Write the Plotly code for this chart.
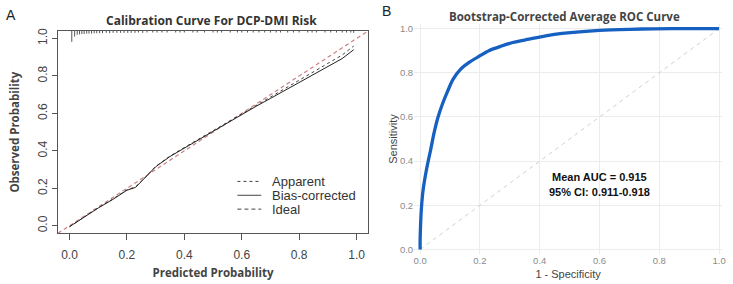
import plotly.graph_objects as go

# ---------------- Data ----------------
# Panel A: calibration curve
cal_pred = [0.0, 0.05, 0.10, 0.15, 0.20, 0.23, 0.26, 0.30, 0.35, 0.40, 0.45, 0.50,
            0.55, 0.60, 0.65, 0.70, 0.75, 0.80, 0.85, 0.90, 0.95, 0.99]
cal_bias = [-0.005, 0.045, 0.095, 0.14, 0.19, 0.205, 0.25, 0.315, 0.37, 0.415, 0.46, 0.505,
            0.55, 0.595, 0.638, 0.68, 0.722, 0.765, 0.807, 0.85, 0.893, 0.94]
cal_app = [-0.005, 0.046, 0.096, 0.142, 0.192, 0.208, 0.252, 0.317, 0.372, 0.418, 0.463, 0.508,
           0.553, 0.60, 0.645, 0.69, 0.735, 0.78, 0.822, 0.868, 0.912, 0.96]

# spike histogram of predicted values (top rug): positions and relative heights
rug_x = [0.008, 0.018, 0.027, 0.035, 0.043, 0.051, 0.060, 0.068, 0.077, 0.086, 0.095,
         0.105, 0.115, 0.128, 0.140, 0.152, 0.165, 0.178, 0.190, 0.203, 0.215, 0.228,
         0.240, 0.255, 0.270, 0.290, 0.305, 0.322, 0.340, 0.370, 0.385, 0.400, 0.430,
         0.445, 0.470, 0.500, 0.515, 0.530, 0.560, 0.585, 0.600, 0.620, 0.640, 0.660,
         0.680, 0.700, 0.720, 0.735, 0.760, 0.780, 0.800, 0.830, 0.845, 0.860, 0.890,
         0.910, 0.930, 0.950, 0.965, 0.980, 0.990]
rug_h = [0.058, 0.030, 0.020, 0.018, 0.016, 0.016, 0.014, 0.014, 0.014, 0.012, 0.012,
         0.012, 0.012, 0.010, 0.012, 0.010, 0.010, 0.010, 0.010, 0.010, 0.010, 0.010,
         0.008, 0.010, 0.008, 0.008, 0.008, 0.008, 0.008, 0.008, 0.008, 0.008, 0.008,
         0.008, 0.008, 0.008, 0.008, 0.008, 0.008, 0.008, 0.008, 0.008, 0.008, 0.008,
         0.008, 0.008, 0.008, 0.008, 0.008, 0.008, 0.008, 0.008, 0.008, 0.008, 0.008,
         0.008, 0.008, 0.008, 0.008, 0.008, 0.010]

cal_ticks = [0.0, 0.2, 0.4, 0.6, 0.8, 1.0]
cal_ticktext = ["0.0", "0.2", "0.4", "0.6", "0.8", "1.0"]
cal_range = [-0.04, 1.04]

# Panel B: ROC curve
roc_fpr = [0.0, 0.0, 0.001, 0.004, 0.010, 0.021, 0.035, 0.047, 0.060, 0.075, 0.090,
           0.110, 0.135, 0.165, 0.200, 0.230, 0.270, 0.310, 0.364, 0.420, 0.475, 0.600,
           0.700, 0.780, 0.900, 1.0]
roc_tpr = [0.0, 0.04, 0.09, 0.18, 0.27, 0.36, 0.45, 0.53, 0.60, 0.66, 0.71,
           0.77, 0.815, 0.848, 0.877, 0.90, 0.92, 0.937, 0.952, 0.967, 0.978, 0.992,
           0.997, 0.999, 1.0, 1.0]
roc_ticks = [0.0, 0.2, 0.4, 0.6, 0.8, 1.0]
roc_ticktext = ["0.0", "0.2", "0.4", "0.6", "0.8", "1.0"]
auc_text = ["Mean AUC = 0.915", "95% CI: 0.911-0.918"]

# ---------------- Figure ----------------
fig = go.Figure()

# rug spikes hanging from the top border
rx, ry = [], []
for x, h in zip(rug_x, rug_h):
    rx += [x, x, None]
    ry += [cal_range[1], cal_range[1] - h, None]
fig.add_trace(go.Scatter(x=rx, y=ry, mode="lines", line=dict(color="#555555", width=1),
                         xaxis="x", yaxis="y", showlegend=False, hoverinfo="skip"))

# ideal line
fig.add_trace(go.Scatter(x=cal_range, y=cal_range, mode="lines",
                         line=dict(color="#cc8080", width=1.2, dash="4px,3px"),
                         xaxis="x", yaxis="y", showlegend=False))
fig.add_trace(go.Scatter(x=cal_pred, y=cal_app, mode="lines",
                         line=dict(color="#444444", width=1, dash="dot"),
                         xaxis="x", yaxis="y", showlegend=False))
fig.add_trace(go.Scatter(x=cal_pred, y=cal_bias, mode="lines",
                         line=dict(color="#222222", width=1),
                         xaxis="x", yaxis="y", showlegend=False))

# ROC
fig.add_trace(go.Scatter(x=[0, 1], y=[0, 1], mode="lines",
                         line=dict(color="#d0d0d0", width=1, dash="4px,4px"),
                         xaxis="x2", yaxis="y2", showlegend=False))
fig.add_trace(go.Scatter(x=roc_fpr, y=roc_tpr, mode="lines",
                         line=dict(color="#1560c0", width=3.3, shape="spline", smoothing=0.8),
                         xaxis="x2", yaxis="y2", showlegend=False))

tickfont_a = dict(family="Liberation Sans, Arial", size=12, color="#444444")
labfont_a = dict(family="Open Sans, Liberation Sans", size=11.5, color="#444444")

fig.update_layout(
    width=733, height=284,
    margin=dict(l=0, r=0, t=0, b=0),
    paper_bgcolor="white", plot_bgcolor="white",
    xaxis=dict(domain=[0.0783, 0.5042], anchor="y", range=cal_range, tickvals=cal_ticks,
               ticktext=cal_ticktext, ticks="outside", ticklen=6, tickcolor="#555555",
               ticklabelstandoff=4,
               showline=True, mirror=True, linecolor="#555555", linewidth=1,
               showgrid=False, zeroline=False, tickfont=tickfont_a,
               title=dict(text="<b>Predicted Probability</b>", font=labfont_a, standoff=8)),
    yaxis=dict(domain=[0.1775, 0.90], anchor="x", range=cal_range, tickvals=cal_ticks,
               ticktext=cal_ticktext, ticks="outside", ticklen=5, tickcolor="#555555",
               tickangle=-90, showline=True, mirror=True, linecolor="#555555", linewidth=1,
               showgrid=False, zeroline=False, tickfont=tickfont_a,
               title=dict(text="<b>Observed Probability</b>", font=labfont_a, standoff=14)),
    xaxis2=dict(domain=[0.5675, 0.9905], anchor="y2", range=[-0.02, 1.01], tickvals=roc_ticks,
                ticktext=roc_ticktext, showgrid=True, gridcolor="#ececec", gridwidth=1,
                zeroline=False, showline=False, ticks="",
                tickfont=dict(family="Liberation Sans, Arial", size=9.5, color="#8a8a8a"),
                title=dict(text="1 - Specificity", standoff=4,
                           font=dict(family="Liberation Sans, Arial", size=11, color="#444444"))),
    yaxis2=dict(domain=[0.1039, 0.9243], anchor="x2", range=[-0.02, 1.02], tickvals=roc_ticks,
                ticktext=roc_ticktext, showgrid=True, gridcolor="#ececec", gridwidth=1,
                zeroline=False, showline=False, ticks="",
                tickfont=dict(family="Liberation Sans, Arial", size=9.5, color="#8a8a8a"),
                title=dict(text="Sensitivity", standoff=0,
                           font=dict(family="Liberation Sans, Arial", size=11, color="#444444"))),
)

# legend for panel A (manual, R-style)
legend_items = [("Apparent", "dot"), ("Bias-corrected", "solid"), ("Ideal", "4px,3px")]
leg_y = [0.237, 0.163, 0.089]
for (name, dash), yv in zip(legend_items, leg_y):
    fig.add_shape(type="line", xref="x", yref="y", x0=0.585, x1=0.668, y0=yv, y1=yv,
                  line=dict(color="#444444", width=1, dash=dash))
    fig.add_annotation(x=0.70, y=yv, xref="x", yref="y", text=name, showarrow=False,
                       xanchor="left", yanchor="middle",
                       font=dict(family="Liberation Sans, Arial", size=13, color="#333333"))

# titles and panel letters
fig.add_annotation(x=212 / 733, y=1 - 18 / 284, xref="paper", yref="paper",
                   text="<b>Calibration Curve For DCP-DMI Risk</b>", showarrow=False,
                   xanchor="center", yanchor="middle",
                   font=dict(family="Open Sans, Liberation Sans", size=12, color="#333333"))
fig.add_annotation(x=567 / 733, y=1 - 14 / 284, xref="paper", yref="paper",
                   text="<b>Bootstrap-Corrected Average ROC Curve</b>", showarrow=False,
                   xanchor="center", yanchor="middle",
                   font=dict(family="Open Sans, Liberation Sans", size=11.5, color="#444444"))
fig.add_annotation(x=3 / 733, y=1 - 12 / 284, xref="paper", yref="paper", text="A",
                   showarrow=False, xanchor="left", yanchor="middle",
                   font=dict(family="Liberation Sans, Arial", size=14, color="#222222"))
fig.add_annotation(x=382 / 733, y=1 - 8 / 284, xref="paper", yref="paper", text="B",
                   showarrow=False, xanchor="left", yanchor="middle",
                   font=dict(family="Liberation Sans, Arial", size=14, color="#222222"))

# AUC text
for txt, yv in zip(auc_text, [0.33, 0.26]):
    fig.add_annotation(x=0.60, y=yv, xref="x2", yref="y2", text="<b>" + txt + "</b>",
                       showarrow=False, xanchor="center", yanchor="middle",
                       font=dict(family="Liberation Sans, Arial", size=11, color="#111111"))

fig.write_html("out.html")
